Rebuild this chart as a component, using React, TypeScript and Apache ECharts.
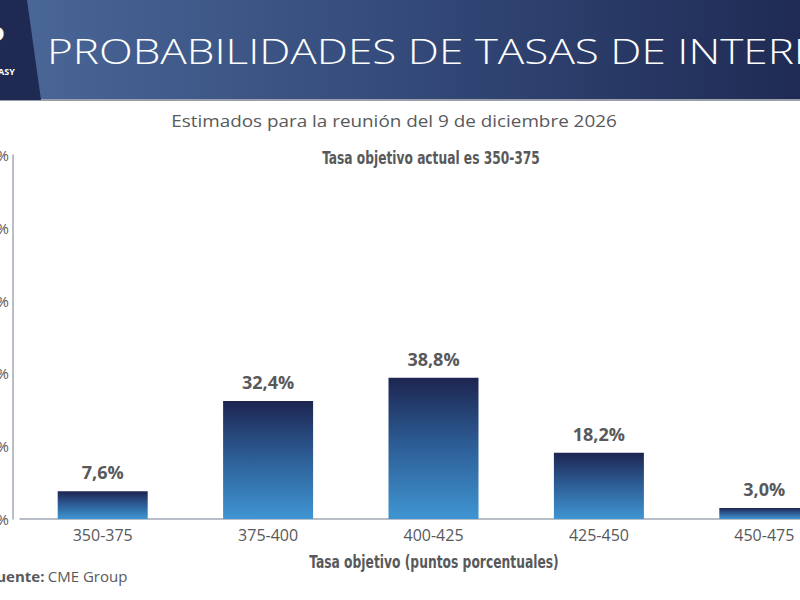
import React, { useEffect, useRef } from "react";
import * as echarts from "echarts";

const categories = ["350-375", "375-400", "400-425", "425-450", "450-475"];
const probabilities = [7.6, 32.4, 38.8, 18.2, 3.0];
const yTicks = { min: 0, max: 100, interval: 20 };

const titleText = "PROBABILIDADES DE TASAS DE INTERÉS";
const subtitleText = "Estimados para la reunión del 9 de diciembre 2026";
const noteText = "Tasa objetivo actual es 350-375";
const xAxisName = "Tasa objetivo (puntos porcentuales)";

const gray = "#58595b";
const condensed = "'Liberation Sans Narrow', 'DejaVu Sans Condensed', sans-serif";
const geo = "'Open Sans', 'Noto Sans', sans-serif";

export default function App() {
  const ref = useRef<HTMLDivElement>(null);
  useEffect(() => {
    if (!ref.current) return;
    const chart = echarts.init(ref.current, undefined, { renderer: "svg" });
    chart.setOption({
      animation: false,
      backgroundColor: "#ffffff",
      grid: {
        left: 20,
        top: 155,
        width: 827,
        height: 364,
        containLabel: false,
        outerBoundsMode: "none",
      },
      xAxis: {
        type: "category",
        data: categories,
        axisLine: { show: true, lineStyle: { color: "#a3a8b5", width: 1.5 } },
        axisTick: { show: false },
        axisLabel: { color: gray, fontSize: 16, fontFamily: geo, margin: 8 },
      },
      yAxis: {
        type: "value",
        min: yTicks.min,
        max: yTicks.max,
        interval: yTicks.interval,
        offset: 7,
        axisLine: { show: true, lineStyle: { color: "#a3a8b5", width: 1.5 } },
        axisTick: { show: false },
        splitLine: { show: false },
        axisLabel: { color: gray, fontSize: 15, fontFamily: geo, formatter: "{value}%", margin: 4 },
      },
      series: [
        {
          type: "bar",
          data: probabilities,
          barWidth: 90,
          itemStyle: {
            color: new echarts.graphic.LinearGradient(0, 0, 0, 1, [
              { offset: 0, color: "#1d2550" },
              { offset: 0.45, color: "#2c5a92" },
              { offset: 1, color: "#3f95d2" },
            ]),
          },
          label: {
            show: true,
            position: "top",
            distance: 10,
            color: gray,
            fontSize: 18,
            fontWeight: "bold",
            fontFamily: geo,
            formatter: (p: any) => p.value.toFixed(1).replace(".", ",") + "%",
          },
        },
      ],
      graphic: [
        {
          type: "rect",
          shape: { x: 0, y: 0, width: 800, height: 100 },
          style: {
            fill: new echarts.graphic.LinearGradient(0, 0, 1, 0, [
              { offset: 0, color: "#4a6898" },
              { offset: 0.5, color: "#344a7a" },
              { offset: 1, color: "#1f2b54" },
            ]),
          },
          z: 1,
        },
        {
          type: "rect",
          shape: { x: 0, y: 99, width: 800, height: 2 },
          style: { fill: "#9a9ea8" },
          z: 2,
        },
        {
          type: "polygon",
          shape: { points: [[0, 0], [27, 0], [41, 100], [0, 100]] },
          style: { fill: "#1e2a52" },
          z: 2,
        },
        {
          type: "text",
          x: -14,
          y: 22,
          style: { text: "P", fill: "#ffffff", fontSize: 30, fontWeight: "bold", fontFamily: geo },
          z: 3,
        },
        {
          type: "text",
          x: -7,
          y: 67,
          style: { text: "EASY", fill: "#ffffff", fontSize: 9, fontWeight: "bold", fontFamily: geo },
          z: 3,
        },
        {
          type: "text",
          x: 47,
          y: 50,
          scaleX: 1.26,
          style: {
            text: titleText,
            fill: "#ffffff",
            fontSize: 35,
            fontWeight: 300,
            fontFamily: geo,
            verticalAlign: "middle",
          },
          z: 3,
        },
        {
          type: "text",
          x: 394,
          y: 121,
          scaleX: 1.18,
          style: {
            text: subtitleText,
            fill: gray,
            fontSize: 16,
            fontWeight: 500,
            fontFamily: geo,
            align: "center",
            verticalAlign: "middle",
          },
          z: 3,
        },
        {
          type: "text",
          x: 431,
          y: 158,
          scaleX: 0.8,
          style: {
            text: noteText,
            fill: gray,
            fontSize: 17,
            fontWeight: "bold",
            fontFamily: condensed,
            align: "center",
            verticalAlign: "middle",
          },
          z: 3,
        },
        {
          type: "text",
          x: 434,
          y: 562,
          scaleX: 0.76,
          style: {
            text: xAxisName,
            fill: gray,
            fontSize: 18,
            fontWeight: "bold",
            fontFamily: condensed,
            align: "center",
            verticalAlign: "middle",
          },
          z: 3,
        },
        {
          type: "text",
          x: -12,
          y: 576,
          style: {
            text: "{b|Fuente:} {r|CME Group}",
            verticalAlign: "middle",
            rich: {
              b: { fill: gray, fontSize: 15, fontWeight: "bold", fontFamily: geo },
              r: { fill: gray, fontSize: 15, fontFamily: geo },
            },
          },
          z: 3,
        },
      ],
    });
    return () => chart.dispose();
  }, []);
  return (
    <div
      ref={ref}
      style={{ position: "absolute", left: 0, top: 0, width: 800, height: 600 }}
    />
  );
}
